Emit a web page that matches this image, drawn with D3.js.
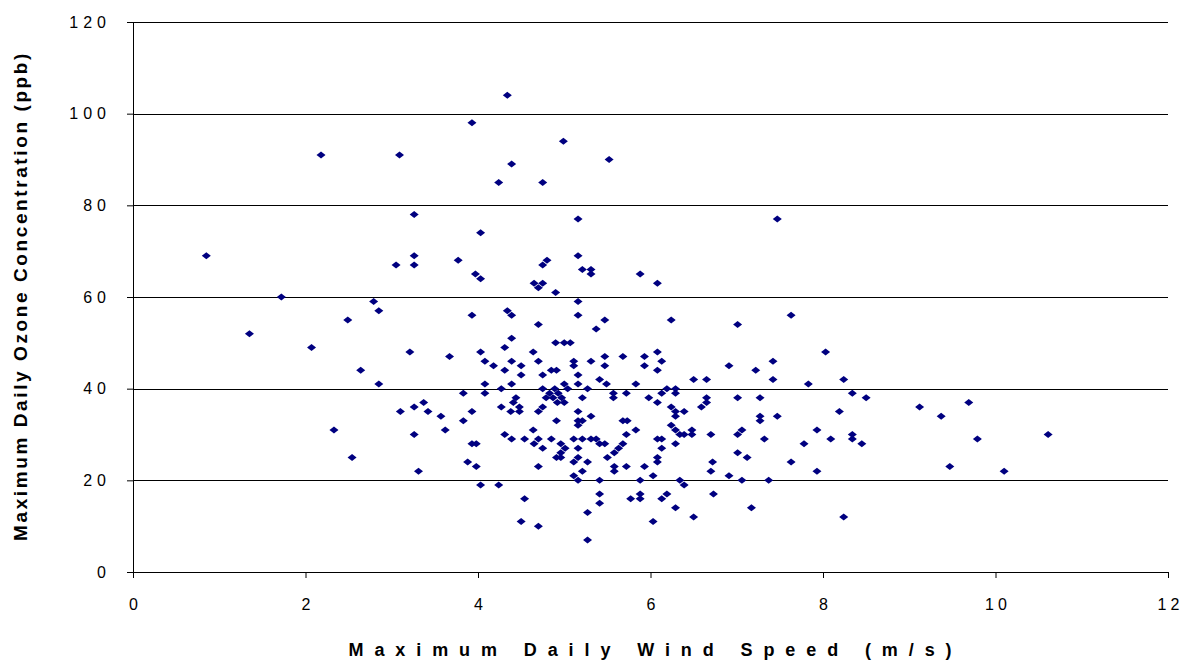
<!DOCTYPE html>
<html>
<head>
<meta charset="utf-8">
<script src="https://cdn.jsdelivr.net/npm/d3@7"></script>
<style>
  body { margin: 0; background: #fff; }
  text { font-family: "Liberation Sans", Arial, sans-serif; }
</style>
</head>
<body>
<div id="chart"></div>
<script>
// wind speed (m/s) vs ozone (ppb)
var windSpeed = [
  0.85,1.35,1.72,2.07,2.18,2.33,2.49,2.54,2.64,2.79,2.85,2.85,3.05,3.09,3.1,
  4.34,3.93,4.99,4.39,4.24,4.75,3.26,5.16,4.03,3.26,3.26,5.16,3.77,3.97,4.03,4.8,4.75,5.21,5.31,5.31,4.65,4.7,4.75,4.9,5.16,4.34,
  5.52,7.47,5.88,6.08,
  3.93,3.21,3.67,4.03,4.08,4.18,4.31,4.31,4.08,3.83,4.08,4.27,3.37,3.26,3.42,3.57,3.93,3.83,4.27,3.62,
  3.26,3.93,3.98,4.31,3.88,3.98,3.31,4.03,4.24,
  4.39,5.16,5.47,4.7,5.37,4.39,4.9,5.0,5.07,4.64,4.7,4.39,4.5,4.5,5.11,5.11,5.31,5.47,4.85,4.91,4.75,5.16,5.41,4.39,5.0,5.04,5.16,5.49,
  4.75,5.27,4.89,4.83,4.93,4.79,4.87,4.97,4.92,5.0,5.21,4.44,4.41,4.38,4.48,4.48,4.75,4.7,5.16,4.91,5.31,5.16,5.21,5.16,4.64,
  4.39,4.54,4.7,4.65,4.85,4.96,5.01,4.96,4.91,4.96,4.75,5.11,5.21,5.31,5.37,5.41,5.47,5.16,5.11,5.16,5.27,5.5,4.7,5.21,5.11,5.16,5.41,
  4.54,5.41,5.41,5.27,4.5,4.7,5.27,
  6.24,5.47,5.68,5.93,5.93,6.08,6.13,6.08,5.83,6.5,6.65,5.57,5.57,5.72,5.98,6.08,6.13,6.19,6.29,6.29,6.65,6.65,6.59,6.24,6.29,6.39,6.29,
  5.68,5.73,5.83,6.24,6.29,6.48,
  5.72,6.34,6.39,6.48,6.7,5.63,5.68,5.58,6.08,6.13,6.29,6.13,6.08,6.08,5.58,5.58,5.72,5.93,6.03,6.7,6.72,5.88,6.34,6.39,5.88,5.77,5.88,
  6.19,6.13,6.29,6.5,6.03,6.73,
  7.63,7.01,8.03,6.91,7.42,7.22,7.42,7.83,8.24,8.34,8.5,7.01,7.27,8.19,7.27,7.27,7.47,7.01,7.06,7.32,7.93,8.09,8.34,8.34,8.45,7.78,
  7.01,7.12,7.63,6.91,7.06,7.37,7.93,7.17,8.24,
  9.12,9.37,9.69,9.79,10.61,9.47,10.1
];
var ozone = [
  69,52,60,49,91,31,55,25,44,59,57,41,67,91,35,
  104,98,94,89,85,85,78,77,74,69,67,69,68,65,64,68,67,66,66,65,63,62,63,61,59,57,
  90,77,65,63,
  56,48,47,48,46,45,49,44,41,39,39,40,37,36,35,34,35,33,36,31,
  30,28,28,30,24,23,22,19,19,
  56,56,55,54,53,51,50,50,50,48,46,46,45,43,46,45,46,47,44,44,43,43,42,41,41,40,41,41,
  40,40,40,39,39,38,38,38,37,37,38,38,37,35,36,35,36,35,35,33,34,33,33,32,31,
  29,29,29,28,29,28,27,26,25,25,27,29,29,29,29,28,28,27,24,25,24,25,23,22,21,20,20,
  16,17,15,13,11,10,7,
  55,45,47,47,45,48,46,44,41,42,42,39,38,39,38,37,39,40,40,39,38,37,36,36,35,35,34,
  33,33,31,32,31,31,
  30,30,30,30,30,27,28,26,29,29,28,27,25,24,23,22,23,23,21,22,24,20,20,19,17,16,16,
  17,16,14,12,11,17,
  56,54,48,45,46,44,42,41,42,39,38,38,38,35,34,33,34,30,31,29,31,29,30,29,28,28,
  26,25,24,21,20,20,22,14,12,
  36,34,37,29,30,23,22
];
var xTicks = [0, 2, 4, 6, 8, 10, 12];
var yTicks = [0, 20, 40, 60, 80, 100, 120];

var data = windSpeed.map(function(w, i) { return { wind: w, ozone: ozone[i] }; });

var margin = {top: 22, right: 16, bottom: 88, left: 133},
    width = 1184 - margin.left - margin.right,
    height = 660 - margin.top - margin.bottom;

var svg = d3.select("#chart")
  .append("svg")
    .attr("width", 1184)
    .attr("height", 660)
  .append("g")
    .attr("transform", "translate(" + margin.left + "," + margin.top + ")");

var x = d3.scaleLinear().domain([0, 12]).range([0, width]);
var y = d3.scaleLinear().domain([0, 120]).range([height, 0]);

// horizontal gridlines
svg.append("g")
  .selectAll("line")
  .data(yTicks.slice(1))
  .enter().append("line")
    .attr("x1", 0)
    .attr("x2", width)
    .attr("y1", function(d) { return Math.round(y(d)) + 0.5; })
    .attr("y2", function(d) { return Math.round(y(d)) + 0.5; })
    .attr("stroke", "#000")
    .attr("stroke-width", 1);

// Y axis
var yAxis = svg.append("g")
  .call(d3.axisLeft(y).tickValues(yTicks).tickSize(6).tickPadding(16));
yAxis.select(".domain").attr("stroke", "#000");
yAxis.selectAll("text")
  .style("font-size", "16px")
  .style("letter-spacing", "5px")
  .attr("fill", "#000");

// X axis
var xAxis = svg.append("g")
  .attr("transform", "translate(0," + height + ")")
  .call(d3.axisBottom(x).tickValues(xTicks).tickSize(6).tickPadding(21));
xAxis.select(".domain").attr("stroke", "#000");
xAxis.selectAll("text")
  .style("font-size", "16px")
  .style("letter-spacing", "4px")
  .attr("dx", 2)
  .attr("fill", "#000");

// the points
svg.append("g")
  .selectAll("path")
  .data(data)
  .enter().append("path")
    .attr("d", "M-4.5,0L0,-3.5L4.5,0L0,3.5Z")
    .attr("transform", function(d) { return "translate(" + x(d.wind) + "," + y(d.ozone) + ")"; })
    .attr("fill", "#000080");

// axis titles
svg.append("text")
  .attr("x", width / 2 + 5)
  .attr("y", height + 84)
  .attr("text-anchor", "middle")
  .style("font-size", "18px")
  .style("font-weight", "bold")
  .style("letter-spacing", "10.9px")
  .text("Maximum Daily Wind Speed (m/s)");

svg.append("text")
  .attr("transform", "rotate(-90)")
  .attr("x", -height / 2 + 1)
  .attr("y", -106)
  .attr("text-anchor", "middle")
  .style("font-size", "19px")
  .style("font-weight", "bold")
  .style("letter-spacing", "2.6px")
  .text("Maximum Daily Ozone Concentration (ppb)");
</script>
</body>
</html>
